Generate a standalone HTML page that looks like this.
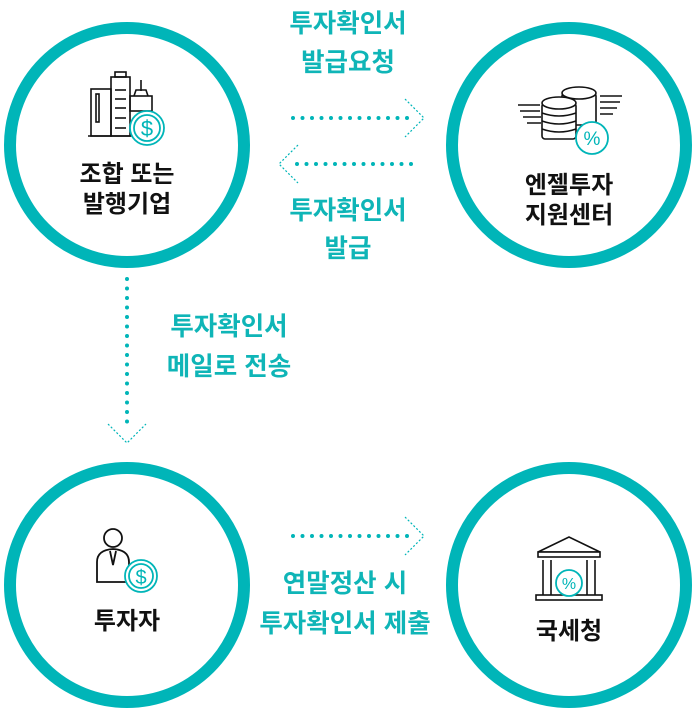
<!DOCTYPE html>
<html><head><meta charset="utf-8"><style>
html,body{margin:0;padding:0;background:#fff;}
svg{display:block}
text{font-family:"Liberation Sans","Noto Sans CJK KR",sans-serif;font-weight:bold;text-anchor:middle}
.t{fill:#0fb5b7;font-size:25.5px}
.b{fill:#111;font-size:24px}
</style></head><body>
<svg width="699" height="717" viewBox="0 0 699 717" xmlns="http://www.w3.org/2000/svg">
<g fill="none" stroke="#00b5b8" stroke-width="12">
<circle cx="127" cy="145" r="117"/>
<circle cx="569" cy="145" r="117"/>
<circle cx="127" cy="585" r="117"/>
<circle cx="569" cy="585" r="117"/>
</g>
<g stroke="#00b5b8" stroke-width="4" stroke-linecap="round" stroke-dasharray="0 9.5">
<line x1="293" y1="118" x2="408" y2="118"/>
<line x1="297" y1="164" x2="412" y2="164"/>
<line x1="293" y1="536" x2="408" y2="536"/>
<line x1="127" y1="279" x2="127" y2="430"/>
</g>
<g fill="none" stroke="#00b5b8" stroke-width="1.2" stroke-dasharray="2 2">
<polyline points="405,99 424,118 405,137"/>
<polyline points="298,145 279,164 298,183"/>
<polyline points="405,517 424,536 405,555"/>
<polyline points="108,424 127,443 146,424"/>
</g>
<text class="t" x="348" y="32">투자확인서</text>
<text class="t" x="348" y="71">발급요청</text>
<text class="t" x="348" y="219">투자확인서</text>
<text class="t" x="348" y="257">발급</text>
<text class="t" x="229" y="335">투자확인서</text>
<text class="t" x="229" y="375">메일로 전송</text>
<text class="t" x="345" y="592">연말정산 시</text>
<text class="t" x="345" y="632">투자확인서 제출</text>
<text class="b" x="127" y="182">조합 또는</text>
<text class="b" x="127" y="212">발행기업</text>
<text class="b" x="569" y="193">엔젤투자</text>
<text class="b" x="569" y="223">지원센터</text>
<text class="b" x="127" y="629">투자자</text>
<text class="b" x="569" y="639">국세청</text>
<g fill="none" stroke="#111" stroke-width="1.6">
<line x1="88" y1="136" x2="140" y2="136"/>
<rect x="91" y="89" width="20" height="47"/>
<rect x="111" y="77" width="19" height="59"/>
<rect x="115" y="72" width="11" height="5"/>
<rect x="130" y="96" width="22" height="15"/>
<line x1="141" y1="80" x2="141" y2="91"/>
<polyline points="134,96 136,90 146,90 148,96"/>
<rect x="96" y="94" width="3" height="28"/>
<line x1="115" y1="90" x2="126" y2="90"/><line x1="115" y1="99" x2="126" y2="99"/><line x1="115" y1="108" x2="126" y2="108"/><line x1="115" y1="118" x2="126" y2="118"/><line x1="115" y1="128" x2="126" y2="128"/>
</g>
<g fill="#fff" stroke="#00b5b8" stroke-width="1.8"><circle cx="147" cy="128" r="17"/><circle cx="147" cy="128" r="13"/></g>
<text x="147" y="136" style="fill:#00b5b8;font-size:22px;font-weight:normal">$</text>
<g fill="#fff" stroke="#111" stroke-width="1.6">
<path d="M518 105 h22 M520 111 h20 M523 117 h18 M527 123 h14 M600 96 h22 M600 102 h20 M600 108 h17 M600 114 h13"/>
<rect x="562" y="93" width="34" height="32" rx="3"/>
<ellipse cx="579" cy="93" rx="17" ry="6"/>
<rect x="542" y="103" width="34" height="36" rx="3"/>
<ellipse cx="559" cy="103" rx="17" ry="6"/>
<path d="M542 113 q17 6 34 0 M542 121 q17 6 34 0 M542 129 q17 6 34 0" fill="none"/>
</g>
<g fill="#fff" stroke="#00b5b8" stroke-width="1.8"><circle cx="592" cy="138" r="16"/></g>
<text x="592" y="145" style="fill:#00b5b8;font-size:19px;font-weight:normal">%</text>
<g fill="#fff" stroke="#111" stroke-width="1.8">
<circle cx="113" cy="538" r="9"/>
<path d="M97 582 v-20 q0-12 16-13 q16 1 16 13 v20 z"/>
<path d="M110 551 l3 14 l3 -14" fill="none"/>
</g>
<g fill="#fff" stroke="#00b5b8" stroke-width="1.8"><circle cx="141" cy="576" r="16"/><circle cx="141" cy="576" r="12"/></g>
<text x="141" y="584" style="fill:#00b5b8;font-size:20px;font-weight:normal">$</text>
<g fill="#fff" stroke="#111" stroke-width="1.6">
<path d="M538 552 L569 537 L600 552 Z"/>
<rect x="538" y="552" width="62" height="5"/>
<line x1="543" y1="560" x2="543" y2="595"/><line x1="551" y1="560" x2="551" y2="595"/>
<line x1="587" y1="560" x2="587" y2="595"/><line x1="595" y1="560" x2="595" y2="595"/>
<rect x="536" y="595" width="66" height="5"/>
</g>
<g fill="#fff" stroke="#00b5b8" stroke-width="1.8"><circle cx="569" cy="583" r="13"/></g>
<text x="569" y="589" style="fill:#00b5b8;font-size:16px;font-weight:normal">%</text>
</svg>
</body></html>
